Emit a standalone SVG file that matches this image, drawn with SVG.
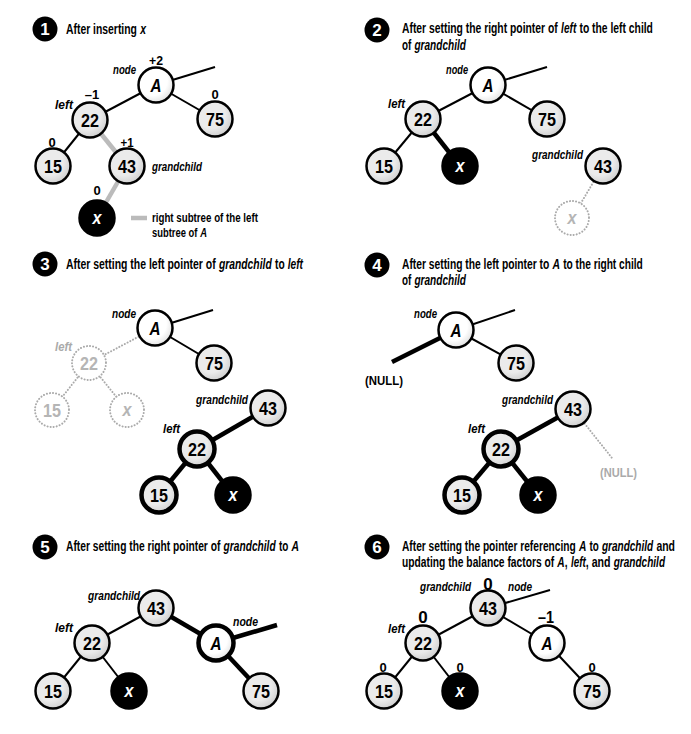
<svg xmlns="http://www.w3.org/2000/svg" width="691" height="734" viewBox="0 0 691 734">
<defs>
<radialGradient id="g" cx="0.4" cy="0.38" r="0.65">
<stop offset="0.6" stop-color="#ebebeb"/>
<stop offset="1" stop-color="#cfcfcf"/>
</radialGradient>
<radialGradient id="gw" cx="0.4" cy="0.38" r="0.65">
<stop offset="0.65" stop-color="#ffffff"/>
<stop offset="1" stop-color="#e2e2e2"/>
</radialGradient>
</defs>
<style>
text{font-family:"Liberation Sans","DejaVu Sans",sans-serif;font-weight:bold}
.title{font-size:14px;fill:#000}
.i{font-style:italic}
.lab{font-size:13px;font-style:italic}
.bf{font-size:13px}
.bfb{font-size:17px}
.end{text-anchor:end}
.mid{text-anchor:middle}
.gray{fill:#aaaaaa}
.badge circle{fill:#000}
.badge text{fill:#fff;font-size:17px;text-anchor:middle}
.n circle{fill:url(#g);stroke:#000;stroke-width:2.5}
.n text{font-size:19px;text-anchor:middle;fill:#000}
.n.w circle{fill:url(#gw)}
.n.k circle{fill:#000}
.n.k text{fill:#fff}
.n.t circle{stroke-width:4.5}
.n.d circle{fill:#fff;stroke:#aaaaaa;stroke-width:2;stroke-dasharray:0.1 3;stroke-linecap:round}
.n.d text{fill:#b5b5b5}
.ital{font-style:italic}
.e{stroke:#000;stroke-width:2;fill:none}
.e.th{stroke-width:4.5}
.e.gr{stroke:#bbbbbb;stroke-width:4.5}
.e.dt{stroke:#aaaaaa;stroke-width:2;stroke-dasharray:0.1 3;stroke-linecap:round}
</style>

<!-- badges and titles -->
<g id="panel1-title">
<g class="badge"><circle cx="45" cy="29" r="12.5"/><text x="45" y="35">1</text></g>
<text class="title" transform="translate(66,34) scale(0.742,1)">After inserting</text>
<text class="title i" transform="translate(140.3,34) scale(0.745,1)">x</text>
</g>
<g id="panel2-title">
<g class="badge"><circle cx="377" cy="30" r="12.5"/><text x="377" y="36">2</text></g>
<text class="title" transform="translate(402,33) scale(0.7396,1)">After setting the right pointer of</text>
<text class="title i" transform="translate(561.1,33) scale(0.724,1)">left</text>
<text class="title" transform="translate(579.5,33) scale(0.738,1)">to the left child</text>
<text class="title" transform="translate(402,50) scale(0.704,1)">of</text>
<text class="title i" transform="translate(414.4,50) scale(0.721,1)">grandchild</text>
</g>
<g id="panel3-title">
<g class="badge"><circle cx="45" cy="264" r="12.5"/><text x="45" y="270">3</text></g>
<text class="title" transform="translate(66,269) scale(0.746,1)">After setting the left pointer of</text>
<text class="title i" transform="translate(218.9,269) scale(0.739,1)">grandchild</text>
<text class="title" transform="translate(275,269) scale(0.727,1)">to</text>
<text class="title i" transform="translate(287.7,269) scale(0.729,1)">left</text>
</g>
<g id="panel4-title">
<g class="badge"><circle cx="377" cy="265" r="12.5"/><text x="377" y="271">4</text></g>
<text class="title" transform="translate(402,269) scale(0.735,1)">After setting the left pointer to</text>
<text class="title i" transform="translate(552.6,269) scale(0.742,1)">A</text>
<text class="title" transform="translate(563.2,269) scale(0.727,1)">to the right child</text>
<text class="title" transform="translate(402,285) scale(0.704,1)">of</text>
<text class="title i" transform="translate(414.4,285) scale(0.721,1)">grandchild</text>
</g>
<g id="panel5-title">
<g class="badge"><circle cx="45" cy="547" r="12.5"/><text x="45" y="553">5</text></g>
<text class="title" transform="translate(66,551) scale(0.733,1)">After setting the right pointer of</text>
<text class="title i" transform="translate(223.6,551) scale(0.728,1)">grandchild</text>
<text class="title" transform="translate(278.9,551) scale(0.712,1)">to</text>
<text class="title i" transform="translate(291.4,551) scale(0.742,1)">A</text>
</g>
<g id="panel6-title">
<g class="badge"><circle cx="377" cy="547" r="12.5"/><text x="377" y="553">6</text></g>
<text class="title" transform="translate(402,551) scale(0.728,1)">After setting the pointer referencing</text>
<text class="title i" transform="translate(579,551) scale(0.732,1)">A</text>
<text class="title" transform="translate(589.5,551) scale(0.704,1)">to</text>
<text class="title i" transform="translate(601.9,551) scale(0.718,1)">grandchild</text>
<text class="title" transform="translate(656.4,551) scale(0.747,1)">and</text>
<text class="title" transform="translate(402,567) scale(0.733,1)">updating the balance factors of</text>
<text class="title i" transform="translate(557.3,567) scale(0.732,1)">A</text>
<text class="title" transform="translate(564.7,567) scale(0.73,1)">,</text>
<text class="title i" transform="translate(570.9,567) scale(0.71,1)">left</text>
<text class="title" transform="translate(585.8,567) scale(0.759,1)">, and</text>
<text class="title i" transform="translate(613.7,567) scale(0.718,1)">grandchild</text>
</g>

<!-- connectors -->
<g id="connectors">
<!-- panel 1 -->
<line class="e" x1="156" y1="85" x2="90" y2="120"/>
<line class="e" x1="156" y1="85" x2="215" y2="119"/>
<line class="e" x1="156" y1="85" x2="215" y2="67"/>
<line class="e" x1="90" y1="120" x2="53" y2="166"/>
<line class="e gr" x1="90" y1="120" x2="127" y2="166"/>
<line class="e gr" x1="127" y1="166" x2="97" y2="218"/>
<line class="e gr" x1="131" y1="218" x2="147" y2="218"/>
<!-- panel 2 -->
<line class="e" x1="488" y1="85" x2="423" y2="119"/>
<line class="e" x1="488" y1="85" x2="547" y2="119"/>
<line class="e" x1="488" y1="85" x2="547" y2="67"/>
<line class="e" x1="423" y1="119" x2="384" y2="166"/>
<line class="e th" x1="423" y1="119" x2="460" y2="166"/>
<line class="e dt" x1="603" y1="166" x2="572" y2="218"/>
<!-- panel 3 -->
<line class="e" x1="155" y1="328" x2="214" y2="363"/>
<line class="e" x1="155" y1="328" x2="213" y2="310"/>
<line class="e dt" x1="155" y1="328" x2="89" y2="363"/>
<line class="e dt" x1="89" y1="363" x2="52" y2="410"/>
<line class="e dt" x1="89" y1="363" x2="127" y2="410"/>
<line class="e th" x1="268" y1="408" x2="197" y2="449"/>
<line class="e th" x1="197" y1="449" x2="159" y2="495"/>
<line class="e th" x1="197" y1="449" x2="233" y2="495"/>
<!-- panel 4 -->
<line class="e" x1="456" y1="330" x2="516" y2="363"/>
<line class="e" x1="456" y1="330" x2="515" y2="310"/>
<line class="e th" x1="456" y1="330" x2="392" y2="362"/>
<line class="e th" x1="573" y1="409" x2="501" y2="449"/>
<line class="e th" x1="501" y1="449" x2="462" y2="495"/>
<line class="e th" x1="501" y1="449" x2="538" y2="495"/>
<line class="e dt" x1="573" y1="409" x2="612" y2="458"/>
<!-- panel 5 -->
<line class="e" x1="156" y1="608" x2="92" y2="643"/>
<line class="e" x1="92" y1="643" x2="53" y2="691"/>
<line class="e" x1="92" y1="643" x2="129" y2="691"/>
<line class="e th" x1="156" y1="608" x2="216" y2="643"/>
<line class="e th" x1="216" y1="643" x2="261" y2="691"/>
<line class="e th" x1="216" y1="643" x2="277" y2="625"/>
<!-- panel 6 -->
<line class="e" x1="488" y1="608" x2="423" y2="643"/>
<line class="e" x1="488" y1="608" x2="547" y2="643"/>
<line class="e" x1="488" y1="608" x2="550" y2="590"/>
<line class="e" x1="423" y1="643" x2="384" y2="691"/>
<line class="e" x1="423" y1="643" x2="460" y2="691"/>
<line class="e" x1="547" y1="643" x2="592" y2="691"/>
</g>

<!-- panel 1 nodes -->
<g id="p1-A" class="n w"><circle cx="156" cy="85" r="17.5"/><text class="ital" transform="translate(156,92) scale(0.8,1)">A</text></g>
<g id="p1-22" class="n"><circle cx="90" cy="120" r="17.5"/><text transform="translate(90,127) scale(0.85,1)">22</text></g>
<g id="p1-75" class="n"><circle cx="215" cy="119" r="17.5"/><text transform="translate(215,126) scale(0.85,1)">75</text></g>
<g id="p1-15" class="n"><circle cx="53" cy="166" r="17.5"/><text transform="translate(53,173) scale(0.85,1)">15</text></g>
<g id="p1-43" class="n"><circle cx="127" cy="166" r="17.5"/><text transform="translate(127,173) scale(0.85,1)">43</text></g>
<g id="p1-x" class="n k"><circle cx="97" cy="218" r="17.5"/><text class="ital" transform="translate(97,224) scale(0.85,1)">x</text></g>
<g id="p1-labels">
<text class="lab end" transform="translate(136,74) scale(0.74,1)">node</text>
<text class="bf mid" transform="translate(156,65) scale(0.945,1)">+2</text>
<text class="lab end" transform="translate(73,109) scale(0.923,1)">left</text>
<text class="bf mid" x="92" y="99">–1</text>
<text class="bf mid" x="215" y="99">0</text>
<text class="bf mid" x="52" y="147">0</text>
<text class="bf mid" transform="translate(127,147) scale(0.88,1)">+1</text>
<text class="lab" transform="translate(152,171) scale(0.752,1)">grandchild</text>
<text class="bf mid" x="97" y="195">0</text>
<text class="bf" transform="translate(152,222) scale(0.749,1)">right subtree of the left</text>
<text class="bf" transform="translate(152,237) scale(0.723,1)">subtree of</text>
<text class="bf i" transform="translate(200.2,237) scale(0.724,1)">A</text>
</g>

<!-- panel 2 nodes -->
<g id="p2-A" class="n w"><circle cx="488" cy="85" r="17.5"/><text class="ital" transform="translate(488,92) scale(0.8,1)">A</text></g>
<g id="p2-22" class="n"><circle cx="423" cy="119" r="17.5"/><text transform="translate(423,126) scale(0.85,1)">22</text></g>
<g id="p2-75" class="n"><circle cx="547" cy="119" r="17.5"/><text transform="translate(547,126) scale(0.85,1)">75</text></g>
<g id="p2-15" class="n"><circle cx="384" cy="166" r="17.5"/><text transform="translate(384,173) scale(0.85,1)">15</text></g>
<g id="p2-x" class="n k"><circle cx="460" cy="166" r="17.5"/><text class="ital" transform="translate(460,172) scale(0.85,1)">x</text></g>
<g id="p2-43" class="n"><circle cx="603" cy="166" r="17.5"/><text transform="translate(603,173) scale(0.85,1)">43</text></g>
<g id="p2-xold" class="n d"><circle cx="572" cy="218" r="17"/><text class="ital" transform="translate(572,224) scale(0.85,1)">x</text></g>
<g id="p2-labels">
<text class="lab end" transform="translate(468,74) scale(0.708,1)">node</text>
<text class="lab end" transform="translate(405,108) scale(0.872,1)">left</text>
<text class="lab end" transform="translate(583,159) scale(0.767,1)">grandchild</text>
</g>

<!-- panel 3 nodes -->
<g id="p3-A" class="n w"><circle cx="155" cy="328" r="17.5"/><text class="ital" transform="translate(155,335) scale(0.8,1)">A</text></g>
<g id="p3-75" class="n"><circle cx="214" cy="363" r="17.5"/><text transform="translate(214,370) scale(0.85,1)">75</text></g>
<g id="p3-22old" class="n d"><circle cx="89" cy="363" r="17"/><text transform="translate(89,370) scale(0.85,1)">22</text></g>
<g id="p3-15old" class="n d"><circle cx="52" cy="410" r="17"/><text transform="translate(52,417) scale(0.85,1)">15</text></g>
<g id="p3-xold" class="n d"><circle cx="127" cy="410" r="17"/><text class="ital" transform="translate(127,416) scale(0.85,1)">x</text></g>
<g id="p3-43" class="n"><circle cx="268" cy="408" r="17.5"/><text transform="translate(268,415) scale(0.85,1)">43</text></g>
<g id="p3-22" class="n t"><circle cx="197" cy="449" r="17.5"/><text transform="translate(197,456) scale(0.85,1)">22</text></g>
<g id="p3-15" class="n t"><circle cx="159" cy="495" r="17.5"/><text transform="translate(159,502) scale(0.85,1)">15</text></g>
<g id="p3-x" class="n k"><circle cx="233" cy="495" r="17.5"/><text class="ital" transform="translate(233,501) scale(0.85,1)">x</text></g>
<g id="p3-labels">
<text class="lab end" transform="translate(136,318) scale(0.773,1)">node</text>
<text class="lab end gray" transform="translate(72,351) scale(0.872,1)">left</text>
<text class="lab end" transform="translate(248,404) scale(0.782,1)">grandchild</text>
<text class="lab end" transform="translate(180,433) scale(0.872,1)">left</text>
</g>

<!-- panel 4 nodes -->
<g id="p4-A" class="n w"><circle cx="456" cy="330" r="17.5"/><text class="ital" transform="translate(456,337) scale(0.8,1)">A</text></g>
<g id="p4-75" class="n"><circle cx="516" cy="363" r="17.5"/><text transform="translate(516,370) scale(0.85,1)">75</text></g>
<g id="p4-43" class="n"><circle cx="573" cy="409" r="17.5"/><text transform="translate(573,416) scale(0.85,1)">43</text></g>
<g id="p4-22" class="n t"><circle cx="501" cy="449" r="17.5"/><text transform="translate(501,456) scale(0.85,1)">22</text></g>
<g id="p4-15" class="n t"><circle cx="462" cy="495" r="17.5"/><text transform="translate(462,502) scale(0.85,1)">15</text></g>
<g id="p4-x" class="n k"><circle cx="538" cy="495" r="17.5"/><text class="ital" transform="translate(538,501) scale(0.85,1)">x</text></g>
<g id="p4-labels">
<text class="lab end" transform="translate(437,318) scale(0.74,1)">node</text>
<text class="bf" transform="translate(365,385) scale(0.877,1)">(NULL)</text>
<text class="lab end" transform="translate(553,404) scale(0.767,1)">grandchild</text>
<text class="lab end" transform="translate(485,433) scale(0.872,1)">left</text>
<text class="bf gray" transform="translate(600,477) scale(0.854,1)">(NULL)</text>
</g>

<!-- panel 5 nodes -->
<g id="p5-43" class="n"><circle cx="156" cy="608" r="17.5"/><text transform="translate(156,615) scale(0.85,1)">43</text></g>
<g id="p5-22" class="n"><circle cx="92" cy="643" r="17.5"/><text transform="translate(92,650) scale(0.85,1)">22</text></g>
<g id="p5-15" class="n"><circle cx="53" cy="691" r="17.5"/><text transform="translate(53,698) scale(0.85,1)">15</text></g>
<g id="p5-x" class="n k"><circle cx="129" cy="691" r="17.5"/><text class="ital" transform="translate(129,697) scale(0.85,1)">x</text></g>
<g id="p5-A" class="n w t"><circle cx="216" cy="643" r="17.5"/><text class="ital" transform="translate(216,650) scale(0.8,1)">A</text></g>
<g id="p5-75" class="n"><circle cx="261" cy="691" r="17.5"/><text transform="translate(261,698) scale(0.85,1)">75</text></g>
<g id="p5-labels">
<text class="lab end" transform="translate(140,600) scale(0.782,1)">grandchild</text>
<text class="lab end" transform="translate(73,632) scale(0.923,1)">left</text>
<text class="lab" transform="translate(233,626) scale(0.805,1)">node</text>
</g>

<!-- panel 6 nodes -->
<g id="p6-43" class="n"><circle cx="488" cy="608" r="17.5"/><text transform="translate(488,615) scale(0.85,1)">43</text></g>
<g id="p6-22" class="n"><circle cx="423" cy="643" r="17.5"/><text transform="translate(423,650) scale(0.85,1)">22</text></g>
<g id="p6-15" class="n"><circle cx="384" cy="691" r="17.5"/><text transform="translate(384,698) scale(0.85,1)">15</text></g>
<g id="p6-x" class="n k"><circle cx="460" cy="691" r="17.5"/><text class="ital" transform="translate(460,697) scale(0.85,1)">x</text></g>
<g id="p6-A" class="n w"><circle cx="547" cy="643" r="17.5"/><text class="ital" transform="translate(547,650) scale(0.8,1)">A</text></g>
<g id="p6-75" class="n"><circle cx="592" cy="691" r="17.5"/><text transform="translate(592,698) scale(0.85,1)">75</text></g>
<g id="p6-labels">
<text class="lab end" transform="translate(471,591) scale(0.767,1)">grandchild</text>
<text class="bfb mid" x="488" y="590">0</text>
<text class="lab" transform="translate(508,591) scale(0.773,1)">node</text>
<text class="bfb mid" x="423" y="623">0</text>
<text class="bfb mid" transform="translate(546,623) scale(0.846,1)">–1</text>
<text class="lab end" transform="translate(405,633) scale(0.872,1)">left</text>
<text class="bf mid" x="383" y="672">0</text>
<text class="bf mid" x="460" y="672">0</text>
<text class="bf mid" x="592" y="672">0</text>
</g>
</svg>
